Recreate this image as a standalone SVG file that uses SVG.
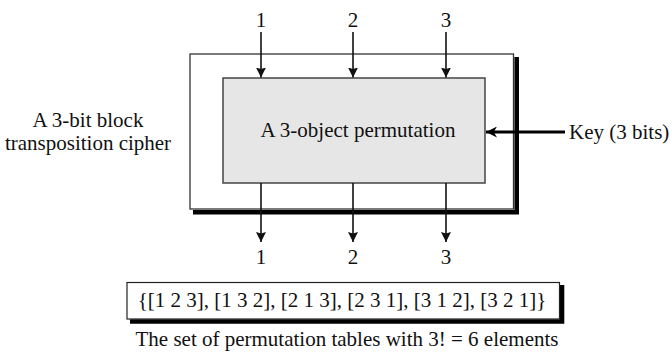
<svg xmlns="http://www.w3.org/2000/svg" width="672" height="352" viewBox="0 0 672 352">
<style>
text{font-family:"Liberation Serif","Times New Roman",serif;font-size:21px;fill:#111}
.c{text-anchor:middle}
.ln{stroke:#111;stroke-width:1.6;fill:none}
.sh{stroke:#000;stroke-width:4.6;fill:none}
</style>
<defs>
<marker id="ah" viewBox="0 0 10 10" refX="10" refY="5" markerWidth="10" markerHeight="11" markerUnits="userSpaceOnUse" orient="auto">
<path d="M0,0 L10,5 L0,10 L1.5,5 z" fill="#111"/>
</marker>
<marker id="ahk" viewBox="0 0 10 10" refX="10" refY="5" markerWidth="11" markerHeight="11" markerUnits="userSpaceOnUse" orient="auto">
<path d="M0,0 L10,5 L0,10 L3,5 z" fill="#000"/>
</marker>
</defs>
<g id="cipher">
<path class="sh" d="M516.7,57 V212.3 H193"/>
<rect x="190" y="54" width="323.5" height="155" fill="#fff" stroke="#333" stroke-width="1.3"/>
<text class="c" x="88" y="127">A 3-bit block</text>
<text class="c" x="88" y="150">transposition cipher</text>
</g>
<g id="permutation">
<rect x="223" y="78" width="262" height="105" fill="#e6e6e6" stroke="#444" stroke-width="1.5"/>
<text class="c" x="358" y="137">A 3-object permutation</text>
</g>
<g id="key">
<text x="569" y="139">Key (3 bits)</text>
</g>
<g id="inputs">
<text class="c" x="261" y="27">1</text>
<text class="c" x="353" y="27">2</text>
<text class="c" x="446" y="27">3</text>
</g>
<g id="outputs">
<text class="c" x="261" y="264">1</text>
<text class="c" x="353" y="264">2</text>
<text class="c" x="446" y="264">3</text>
</g>
<g id="connectors">
<line class="ln" x1="261" y1="32" x2="261" y2="77.5" marker-end="url(#ah)"/>
<line class="ln" x1="353" y1="32" x2="353" y2="77.5" marker-end="url(#ah)"/>
<line class="ln" x1="446" y1="32" x2="446" y2="77.5" marker-end="url(#ah)"/>
<line class="ln" x1="261" y1="183" x2="261" y2="242" marker-end="url(#ah)"/>
<line class="ln" x1="353" y1="183" x2="353" y2="242" marker-end="url(#ah)"/>
<line class="ln" x1="446" y1="183" x2="446" y2="242" marker-end="url(#ah)"/>
<line x1="565" y1="132" x2="486" y2="132" stroke="#000" stroke-width="3" marker-end="url(#ahk)"/>
</g>
<g id="perm-set">
<path class="sh" d="M562,285 V321.5 H130"/>
<rect x="127" y="282.5" width="432.5" height="36.5" fill="#fff" stroke="#222" stroke-width="1.2"/>
<text class="c" x="342" y="307">{[1 2 3], [1 3 2], [2 1 3], [2 3 1], [3 1 2], [3 2 1]}</text>
</g>
<g id="caption">
<text class="c" x="347" y="346">The set of permutation tables with 3! = 6 elements</text>
</g>
</svg>
